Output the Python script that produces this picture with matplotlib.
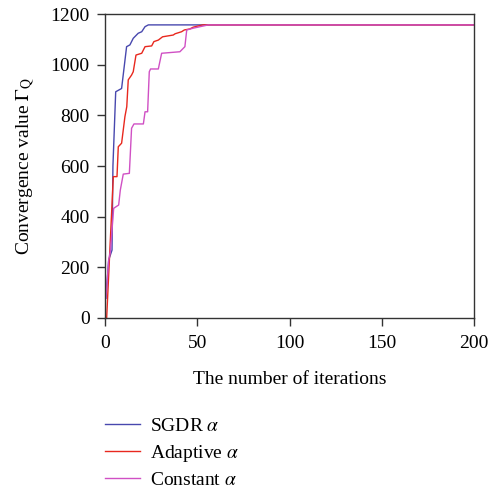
import matplotlib
matplotlib.use("Agg")
import matplotlib.pyplot as plt

plt.rcParams['font.family'] = ['Liberation Serif', 'DejaVu Serif']
plt.rcParams['mathtext.fontset'] = 'stix'

# SGDR alpha
sgdr_t = [0.5, 2.0, 3.8, 4.3, 5.8, 9.0, 11.7, 13.5, 15.3, 18.0, 19.9, 21.7, 23.5, 30, 200]
sgdr_v = [78, 229, 268, 600, 893, 906, 1071, 1078, 1104, 1124, 1130, 1150, 1157, 1157, 1157]

# Adaptive alpha
adap_t = [0.9, 4.5, 6.5, 7.2, 9.0, 10.8, 11.8, 12.6, 14.4, 15.3, 16.8, 19.9, 21.7, 25.3, 26.5,
          28.9, 31.2, 37, 38, 41.5, 43, 46, 47.8, 53, 200]
adap_v = [0, 558, 558, 676, 690, 795, 834, 940, 959, 972, 1038, 1045, 1071, 1074, 1091,
          1097, 1110, 1117, 1122, 1130, 1137, 1141, 1148, 1157, 1157]

# Constant alpha
const_t = [0.5, 2.0, 2.9, 4.7, 7.4, 8.3, 9.9, 13.2, 14.4, 15.7, 20.8, 21.7, 23.1, 24.0, 24.7,
           28.9, 30.7, 40.6, 43.3, 44.3, 47.8, 56, 200]
const_v = [78, 229, 262, 433, 446, 505, 568, 571, 749, 766, 766, 814, 814, 972, 983,
           983, 1045, 1051, 1071, 1137, 1144, 1157, 1157]

fig = plt.figure(figsize=(4.97, 4.90), dpi=100)
ax = fig.add_axes([105/497, 1-318/490, 369/497, 304/490])

ax.plot(sgdr_t, sgdr_v, color='#4848ae', lw=1.0, label=r'SGDR $\alpha$')
ax.plot(adap_t, adap_v, color='#e8281e', lw=1.0, label=r'Adaptive $\alpha$')
ax.plot(const_t, const_v, color='#d050c4', lw=1.0, label=r'Constant $\alpha$')

ax.set_xlim(0, 200)
ax.set_ylim(0, 1200)
ax.set_xticks([0, 50, 100, 150, 200])
ax.set_yticks([0, 200, 400, 600, 800, 1000, 1200])
for s in ax.spines.values():
    s.set_color('#333333')
    s.set_linewidth(1.0)
ax.tick_params(direction='out', length=6, width=1.0, color='#333333', labelsize=14, pad=5)
ax.tick_params(axis='x', pad=6)

ax.set_xlabel('The number of iterations', fontsize=14, labelpad=14)
ax.set_ylabel(r'Convergence value $\Gamma_{\mathrm{Q}}$', fontsize=14, labelpad=10)

fig.legend(loc='upper left', bbox_to_anchor=(105/497, 1-417/490), frameon=False,
           fontsize=14, handlelength=1.8, handletextpad=0.5, labelspacing=0.41,
           borderaxespad=0, borderpad=0)

fig.savefig('out.png', dpi=100)
